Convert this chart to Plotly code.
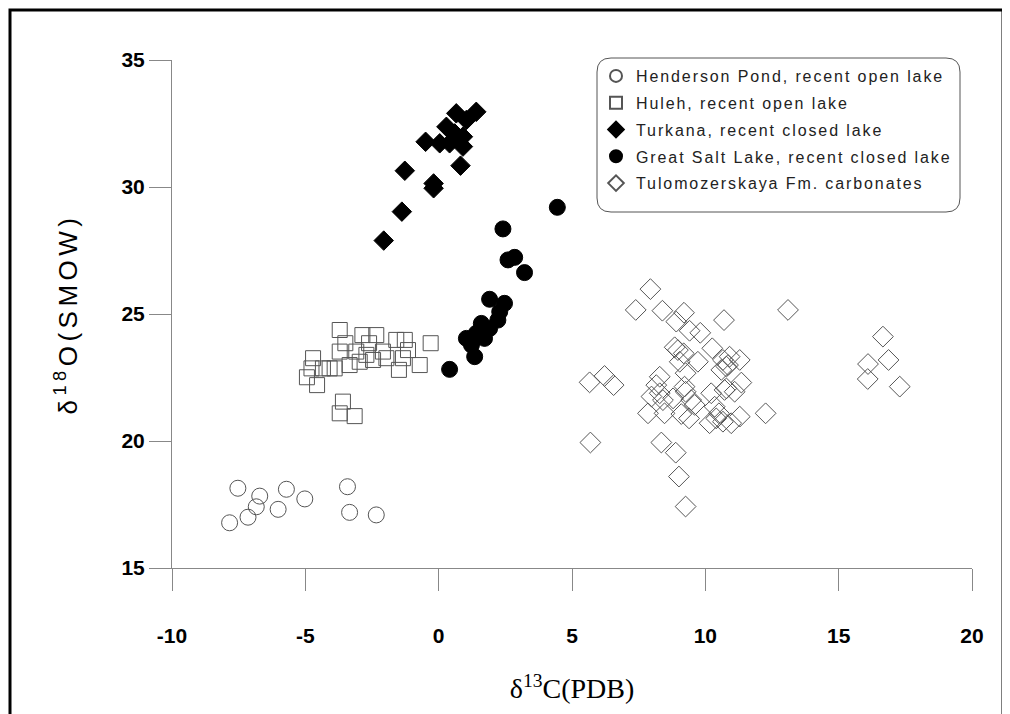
import plotly.graph_objects as go

# Henderson Pond, recent open lake
hend_x = [-7.53, -6.71, -5.71, -5.02, -6.84, -7.15, -7.84, -6.02, -3.42, -3.34, -2.34]
hend_y = [18.14, 17.83, 18.10, 17.72, 17.41, 17.00, 16.78, 17.31, 18.20, 17.19, 17.09]

# Huleh, recent open lake
huleh_x = [-3.71, -3.50, -3.71, -2.86, -2.34, -2.61, -1.59, -1.27, -0.30, -4.71,
           -4.77, -4.94, -4.56, -4.34, -3.90, -3.34, -2.96, -2.46, -1.96, -1.34,
           -1.49, -0.71, -2.09, -3.09, -3.59, -3.71, -3.15, -4.09, -2.71, -1.15]
huleh_y = [24.37, 23.85, 23.52, 24.17, 24.17, 23.85, 23.98, 23.98, 23.85, 23.26,
           22.86, 22.51, 22.20, 22.86, 22.86, 22.99, 23.12, 23.19, 23.26, 23.26,
           22.80, 22.99, 23.52, 23.52, 21.55, 21.09, 20.98, 22.86, 23.39, 23.58]

# Turkana, recent closed lake
turk_x = [-2.06, -1.38, -1.27, -0.19, -0.19, -0.49, 0.04, 0.29, 0.66, 1.41,
          1.04, 0.60, 0.72, 0.91, 0.41, 0.82, 0.91]
turk_y = [27.89, 29.03, 30.64, 30.14, 29.95, 31.78, 31.72, 32.37, 32.90, 32.96,
          32.64, 32.11, 31.85, 31.59, 31.72, 30.84, 31.98]

# Great Salt Lake, recent closed lake
gsl_x = [4.45, 2.41, 2.60, 2.85, 3.22, 0.41, 1.91, 2.47, 2.29, 2.22,
         1.60, 1.91, 1.41, 1.04, 1.23, 1.35, 1.72]
gsl_y = [29.20, 28.35, 27.13, 27.23, 26.63, 22.82, 25.58, 25.42, 25.09, 24.76,
         24.63, 24.43, 24.24, 24.04, 23.78, 23.32, 24.04]

# Tulomozerskaya Fm. carbonates
tulo_x = [7.94, 7.39, 8.39, 9.20, 8.91, 9.41, 9.81, 10.70, 8.85, 8.97,
          9.19, 9.04, 9.72, 10.26, 10.66, 10.91, 11.29, 10.60, 10.85, 9.26,
          5.66, 6.22, 6.56, 8.29, 8.16, 8.29, 7.98, 8.41, 8.79, 9.22,
          9.26, 9.47, 9.60, 7.85, 8.47, 9.10, 9.39, 10.22, 10.79, 11.35,
          11.10, 10.35, 10.51, 10.16, 10.66, 10.97, 11.29, 5.69, 8.35, 8.89,
          9.01, 9.26, 10.41, 13.10, 12.26, 16.66, 16.10, 16.87, 16.09, 17.29,
          10.72, 10.79]
tulo_y = [25.98, 25.16, 25.13, 25.05, 24.70, 24.34, 24.26, 24.76, 23.69, 23.58,
          23.45, 23.12, 23.12, 23.65, 23.19, 23.32, 23.19, 22.80, 22.99, 22.67,
          22.31, 22.56, 22.20, 22.53, 22.20, 21.88, 21.75, 21.61, 21.68, 22.14,
          21.94, 21.61, 21.42, 21.09, 21.09, 21.06, 20.89, 21.88, 22.07, 22.30,
          21.94, 21.35, 21.09, 20.70, 20.76, 20.70, 20.96, 19.94, 19.94, 19.54,
          18.60, 17.42, 20.89, 25.16, 21.09, 24.11, 23.03, 23.19, 22.44, 22.14,
          22.01, 22.93]

x_ticks = [-10, -5, 0, 5, 10, 15, 20]
y_ticks = [15, 20, 25, 30, 35]

SANS = "Arial, Liberation Sans, sans-serif"
SERIF = "Times New Roman, Liberation Serif, serif"

fig = go.Figure()

def add(name, xs, ys, symbol, size, fill, line_color, group):
    fig.add_trace(go.Scatter(
        x=xs, y=ys, mode="markers", name=name, legendgroup=group,
        marker=dict(symbol=symbol, size=size, color=fill,
                    line=dict(color=line_color, width=1)),
    ))

add("Henderson Pond, recent open lake", hend_x, hend_y, "circle-open", 16, "#555555", "#555555", "a")
add("Huleh, recent open lake", huleh_x, huleh_y, "square-open", 15, "#555555", "#555555", "b")
add("Turkana, recent closed lake", turk_x, turk_y, "diamond", 15, "black", "black", "c")
add("Great Salt Lake, recent closed lake", gsl_x, gsl_y, "circle", 16, "black", "black", "d")
add("Tulomozerskaya Fm. carbonates", tulo_x, tulo_y, "diamond-open", 16, "#555555", "#555555", "e")

# rounded legend box path in paper coordinates
x0, x1 = (597 - 172) / 800, (960 - 172) / 800
y1, y0 = 1 + (60 - 58) / 508, (568 - 212) / 508
rx, ry = 14 / 800, 14 / 508
path = (f"M {x0+rx},{y1} L {x1-rx},{y1} Q {x1},{y1} {x1},{y1-ry} "
        f"L {x1},{y0+ry} Q {x1},{y0} {x1-rx},{y0} L {x0+rx},{y0} "
        f"Q {x0},{y0} {x0},{y0+ry} L {x0},{y1-ry} Q {x0},{y1} {x0+rx},{y1} Z")

fig.update_layout(
    width=1010, height=714,
    margin=dict(l=164, r=46, t=52, b=154),
    paper_bgcolor="white", plot_bgcolor="white",
    showlegend=True,
    legend=dict(x=(596 - 172) / 800, y=1 + (60 - 59) / 508, xanchor="left", yanchor="top",
                bgcolor="rgba(0,0,0,0)", borderwidth=0,
                font=dict(family=SANS, size=16, color="#222222"),
                tracegroupgap=3, itemsizing="constant"),
    shapes=[
        dict(type="path", path=path, xref="paper", yref="paper",
             line=dict(color="#555555", width=1), fillcolor="rgba(0,0,0,0)"),
        dict(type="rect", xref="paper", yref="paper",
             x0=(10 - 172) / 800, x1=(1003 - 172) / 800,
             y0=(568 - 716) / 508, y1=1 + (60 - 10) / 508,
             line=dict(color="black", width=3)),
    ],
)

fig.update_xaxes(
    range=[-10, 20], tickvals=x_ticks, ticktext=[str(v) for v in x_ticks],
    showgrid=False, zeroline=False, showline=True, linecolor="#888888", linewidth=1,
    ticks="outside", ticklen=22, tickcolor="#888888", tickwidth=1,
    ticklabelstandoff=27,
    tickfont=dict(family=SANS, size=21, color="black", weight="bold"),
    title=dict(text="δ<sup>13</sup>C(PDB)", font=dict(family=SERIF, size=28, color="black"),
               standoff=32),
)
fig.update_yaxes(
    range=[15, 35], tickvals=y_ticks, ticktext=[str(v) for v in y_ticks],
    showgrid=False, zeroline=False, showline=True, linecolor="#888888", linewidth=1,
    ticks="outside", ticklen=22, tickcolor="#888888", tickwidth=1,
    tickfont=dict(family=SANS, size=21, color="black", weight="bold"),
    title=dict(text="δ<sup>18</sup>O(SMOW)", font=dict(family=SANS, size=26, color="black"),
               standoff=36),
)

post = """
var gd = document.getElementById('{plot_id}');
function spacing() {
  gd.querySelectorAll('.legend .scrollbox').forEach(function(e){ e.removeAttribute('clip-path'); });
  gd.querySelectorAll('.legend').forEach(function(e){ e.removeAttribute('clip-path'); });
  gd.querySelectorAll('.legendtext').forEach(function(e){ e.setAttribute('letter-spacing', '1.9px'); });
  gd.querySelectorAll('.ytitle').forEach(function(e){ e.setAttribute('letter-spacing', '4.5px'); });
}
spacing();
gd.on('plotly_afterplot', spacing);
"""

fig.write_html("out.html", post_script=post)
